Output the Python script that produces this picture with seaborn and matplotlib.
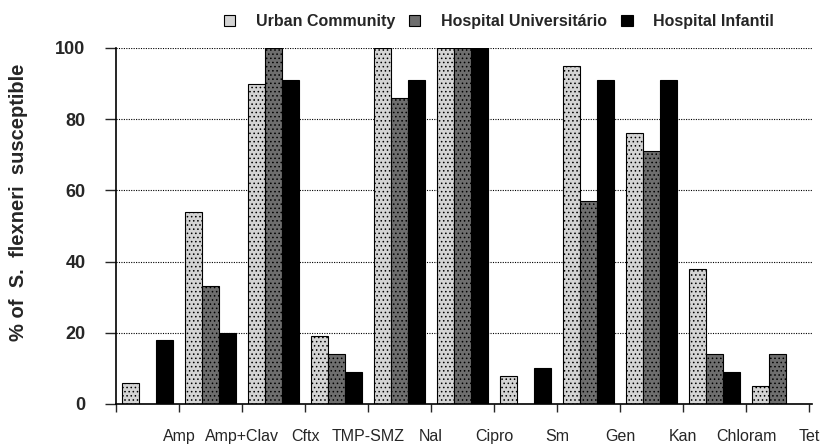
import numpy as np
import pandas as pd
import matplotlib
matplotlib.use("Agg")
import matplotlib.pyplot as plt
import seaborn as sns

# data
drugs = ['Amp', 'Amp+Clav', 'Cftx', 'TMP-SMZ', 'Nal', 'Cipro', 'Sm', 'Gen', 'Kan', 'Chloram', 'Tet']
groups = ['Urban Community', 'Hospital Universitário', 'Hospital Infantil']
urban = [6, 54, 90, 19, 100, 100, 8, 95, 76, 38, 5]
hosp_univ = [0, 33, 100, 14, 86, 100, 0, 57, 71, 14, 14]
hosp_inf = [18, 20, 91, 9, 91, 100, 10, 91, 91, 9, 0]

df = pd.DataFrame({
    'drug': drugs * 3,
    'group': [groups[0]] * 11 + [groups[1]] * 11 + [groups[2]] * 11,
    'pct': urban + hosp_univ + hosp_inf,
})

sns.set_style('white')
plt.rcParams['font.family'] = ['Liberation Sans', 'DejaVu Sans']
plt.rcParams['hatch.linewidth'] = 0.6

fig = plt.figure(figsize=(8.25, 4.44), dpi=100)
ax = fig.add_axes([0.1406, 0.0901, 0.844, 0.802])

colors = ['#d4d4d4', '#6e6e6e', '#000000']
sns.barplot(data=df, x='drug', y='pct', hue='group', palette=colors,
            width=0.81, gap=0, edgecolor='black', linewidth=0.8,
            errorbar=None, ax=ax)

hatches = ['....', '....', '']
for cont, h in zip(ax.containers, hatches):
    for bar in cont:
        bar.set_hatch(h)

ax.set_ylim(0, 100)
ax.set_xlim(-0.5, 10.55)
ax.set_yticks(np.arange(0, 101, 20))
ax.set_yticklabels([str(v) for v in range(0, 101, 20)], fontsize=13, fontweight='bold')
ax.set_xticks(np.arange(-0.5, 11, 1))
ax.set_xticklabels([''] + drugs, fontsize=11.5)
ax.tick_params(axis='x', length=6, width=1, direction='out', pad=12, bottom=True)
ax.tick_params(axis='y', length=8, width=1, direction='out', pad=14, left=True)
for v in range(20, 101, 20):
    ax.axhline(v, color='black', linestyle=(0, (1, 1.2)), linewidth=0.8, zorder=0)
for s in ['top', 'right']:
    ax.spines[s].set_visible(False)
for s in ['left', 'bottom']:
    ax.spines[s].set_color('black')
    ax.spines[s].set_linewidth(1.2)

ax.set_xlabel('')
ax.set_ylabel('% of  S.  flexneri  susceptible', fontsize=14.5, fontweight='bold')
ax.yaxis.set_label_coords(-0.126, 0.567)

handles, labels = ax.get_legend_handles_labels()
ax.legend(handles, labels, loc='lower center', bbox_to_anchor=(0.55, 1.035), ncol=3,
          frameon=False, prop={'weight': 'bold', 'size': 11.5}, handlelength=0.7,
          handleheight=0.7, columnspacing=0.9, handletextpad=1.3, borderaxespad=0)

fig.savefig('out.png', dpi=100)
